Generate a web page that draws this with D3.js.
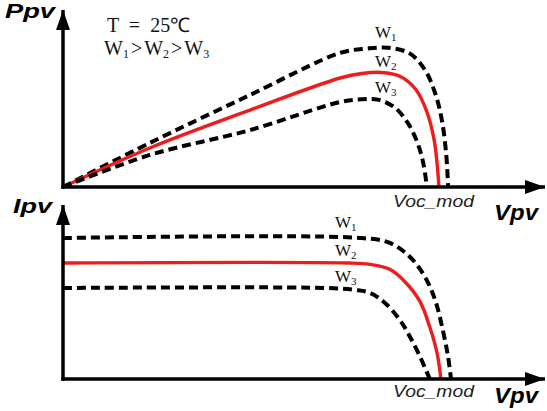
<!DOCTYPE html>
<html lang="en">
<head>
  <meta charset="UTF-8" />
  <title>PV curves vs W</title>
  <script src="https://d3js.org/d3.v7.min.js"></script>
  <style>
    body { margin: 0; padding: 0; background: #fff; overflow: hidden; }
    svg { display: block; }
  </style>
</head>
<body>
  <div id="viz"></div>
  <script>
    // P-V curves (voltage %, power %)
    const pvW1 = [[0,0],[18,24.6],[38.8,51.4],[57.5,74.9],[63,77.3],[67.5,77.8],[72,74.5],[75.1,65.4],[77.2,52.5],[78.6,37.4],[79.5,18.4],[79.9,0]];
    const pvW2 = [[0,0],[18,21.8],[38.8,43],[57.5,60.9],[62,63.4],[66,64],[69.8,62],[73.2,54.5],[75.5,42],[77,26.3],[77.6,13.4],[78,0]];
    const pvW3 = [[0,0],[18,17.9],[38.8,31.8],[57.5,47.5],[62,49],[65.3,48.8],[68.8,44.5],[71.6,35.5],[73.5,25],[74.7,14],[75.5,0]];

    // I-V curves (voltage %, current %)
    const ivW1 = [[0,80.1],[62,80.1],[67.8,77.3],[72,69.3],[75.1,58],[77.2,44.9],[78.8,27.8],[79.9,12.5],[80.5,0]];
    const ivW2 = [[0,65.9],[59,65.9],[63.7,65.1],[67.8,62.3],[71,55.1],[74.1,43.8],[76.1,29.5],[77.6,14.8],[78.4,0]];
    const ivW3 = [[0,51.7],[55,51.7],[60.6,50.6],[63.7,48.9],[66.8,43.2],[69.9,33.5],[72,23.9],[74.1,12.5],[76.1,0]];

    const width = 547, height = 411;
    const red = "#ee1c1c";

    const svg = d3.select("#viz").append("svg")
      .attr("width", width)
      .attr("height", height);

    svg.append("defs").append("marker")
      .attr("id", "arrow")
      .attr("viewBox", "0 0 20 16")
      .attr("refX", 20).attr("refY", 8)
      .attr("markerWidth", 20).attr("markerHeight", 16)
      .attr("markerUnits", "userSpaceOnUse")
      .attr("orient", "auto")
      .append("path")
      .attr("d", "M0,1 L20,8 L0,15 Z")
      .attr("fill", "#000");

    const x = d3.scaleLinear().domain([0, 100]).range([63, 545]);
    const yTop = d3.scaleLinear().domain([0, 100]).range([187, 8]);
    const yBot = d3.scaleLinear().domain([0, 100]).range([379, 203]);

    function panel(y, series, yLabel, vocY, vpvY) {
      const line = d3.line()
        .x(d => x(d[0]))
        .y(d => y(d[1]))
        .curve(d3.curveCatmullRom.alpha(0.5));

      series.forEach(s => {
        svg.append("path")
          .attr("d", line(s.data))
          .attr("fill", "none")
          .attr("stroke", s.dashed ? "#000" : red)
          .attr("stroke-width", s.dashed ? 4 : 3.4)
          .attr("stroke-dasharray", s.dashed ? "9,5" : null);
      });

      // axes with arrows
      svg.append("line")
        .attr("x1", x(0)).attr("x2", x(0))
        .attr("y1", y(0) + 1.7).attr("y2", y(100) + 2)
        .attr("stroke", "#000").attr("stroke-width", 3.5)
        .attr("marker-end", "url(#arrow)");
      svg.append("line")
        .attr("x1", x(0) - 1.7).attr("x2", x(100))
        .attr("y1", y(0)).attr("y2", y(0))
        .attr("stroke", "#000").attr("stroke-width", 3.5)
        .attr("marker-end", "url(#arrow)");

      svg.append("text")
        .attr("x", yLabel.x).attr("y", yLabel.y)
        .attr("font-family", "Liberation Sans, Arial, sans-serif")
        .attr("font-weight", "bold").attr("font-style", "italic")
        .attr("font-size", 21)
        .attr("textLength", yLabel.w).attr("lengthAdjust", "spacingAndGlyphs")
        .text(yLabel.text);

      svg.append("text")
        .attr("x", 393).attr("y", vocY)
        .attr("font-family", "Liberation Sans, Arial, sans-serif")
        .attr("font-style", "italic")
        .attr("font-size", 17)
        .attr("fill", "#222")
        .attr("textLength", 81).attr("lengthAdjust", "spacingAndGlyphs")
        .text("Voc_mod");

      svg.append("text")
        .attr("x", 494).attr("y", vpvY)
        .attr("font-family", "Liberation Sans, Arial, sans-serif")
        .attr("font-weight", "bold").attr("font-style", "italic")
        .attr("font-size", 22)
        .attr("textLength", 44).attr("lengthAdjust", "spacingAndGlyphs")
        .text("Vpv");
    }

    function wLabel(px, py, sub) {
      const t = svg.append("text")
        .attr("x", px).attr("y", py)
        .attr("font-family", "Liberation Serif, Times New Roman, serif")
        .attr("font-size", 17)
        .attr("fill", "#111");
      t.append("tspan").text("W");
      t.append("tspan").attr("font-size", 11).attr("dy", 3).text(sub);
    }

    panel(yTop, [
      { data: pvW1, dashed: true },
      { data: pvW2, dashed: false },
      { data: pvW3, dashed: true }
    ], { text: "Ppv", x: 5, y: 18, w: 50 }, 207, 220);

    panel(yBot, [
      { data: ivW1, dashed: true },
      { data: ivW2, dashed: false },
      { data: ivW3, dashed: true }
    ], { text: "Ipv", x: 13, y: 213, w: 39 }, 397, 403);

    wLabel(375, 38, "1");
    wLabel(375, 67, "2");
    wLabel(375, 93, "3");
    wLabel(335, 228, "1");
    wLabel(335, 256, "2");
    wLabel(335, 282, "3");

    // condition text
    svg.append("text")
      .attr("x", 107).attr("y", 32)
      .attr("font-family", "Liberation Serif, Times New Roman, serif")
      .attr("font-size", 20)
      .attr("fill", "#111")
      .attr("xml:space", "preserve")
      .text("T  =  25℃");

    const cond = svg.append("text")
      .attr("x", 104).attr("y", 55)
      .attr("font-family", "Liberation Serif, Times New Roman, serif")
      .attr("font-size", 20)
      .attr("fill", "#111");
    ["1", "2", "3"].forEach((s, i) => {
      if (i) cond.append("tspan").attr("dx", 2).attr("dy", -3).text(">");
      cond.append("tspan").attr("dx", i ? 2 : 0).attr("dy", 0).text("W");
      cond.append("tspan").attr("font-size", 12).attr("dy", 3).text(s);
    });
  </script>
</body>
</html>
